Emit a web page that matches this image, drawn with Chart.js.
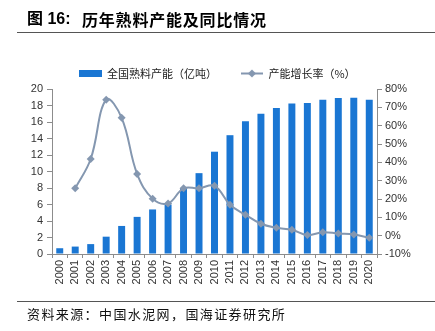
<!DOCTYPE html>
<html>
    <head>
        <meta charset="utf-8">
        <title>历年熟料产能及同比情况</title>
        <script src="https://cdn.jsdelivr.net/npm/chart.js@4"></script>
        <style>
            html, body { margin: 0; padding: 0; background: #fff; }
            #wrap { width: 435px; height: 331px; position: relative; }
        </style>
    </head>
    <body>
        <div id="wrap"><canvas id="chart"></canvas></div>

        <script>
            const years = ['2000', '2001', '2002', '2003', '2004', '2005', '2006', '2007', '2008', '2009', '2010',
                '2011', '2012', '2013', '2014', '2015', '2016', '2017', '2018', '2019', '2020']
            // 全国熟料产能 (亿吨)
            const capacity = [0.7, 0.9, 1.2, 2.1, 3.4, 4.5, 5.4, 6.0, 8.0, 9.8, 12.4,
                14.4, 16.1, 17.0, 17.7, 18.25, 18.3, 18.7, 18.9, 18.95, 18.7]
            // 产能增长率 (%)
            const growth = [null, 25.8, 41.8, 74.2, 64.3, 33.7, 20.2, 17.6, 25.8, 25.8, 27.2,
                16.9, 11.4, 6.5, 4.3, 3.2, 0.3, 1.9, 1.2, 0.6, -1.2]
            const leftTicks = [0, 20, 2]
            const rightTicks = [-10, 80, 10]

            const barColor = '#1a76d3'
            const lineColor = '#8497b0'
            const axisColor = '#8c8c8c'
            const tickFont = { family: "'Liberation Sans', Arial, sans-serif", size: 11 }
            const cjk = "'Noto Sans CJK SC', sans-serif"

            // little legend swatches
            function swatchBar() {
                const c = document.createElement('canvas')
                c.width = 23
                c.height = 7
                const g = c.getContext('2d')
                g.fillStyle = barColor
                g.fillRect(0, 0, 23, 7)
                return c
            }
            function swatchLine() {
                const c = document.createElement('canvas')
                c.width = 22
                c.height = 9
                const g = c.getContext('2d')
                g.strokeStyle = lineColor
                g.lineWidth = 2
                g.beginPath()
                g.moveTo(0, 4.5)
                g.lineTo(22, 4.5)
                g.stroke()
                g.fillStyle = lineColor
                g.beginPath()
                g.moveTo(11, 0.5)
                g.lineTo(15, 4.5)
                g.lineTo(11, 8.5)
                g.lineTo(7, 4.5)
                g.closePath()
                g.fill()
                return c
            }
            const swatches = [swatchBar(), swatchLine()]

            const frame = {
                id: 'frame',
                afterDraw(chart) {
                    const ctx = chart.ctx
                    ctx.save()
                    ctx.fillStyle = '#000'
                    ctx.textBaseline = 'middle'
                    ctx.font = "bold 16px 'Liberation Sans', " + cjk
                    ctx.fillText('图 16:', 27, 20)
                    ctx.font = 'bold 16px ' + cjk
                    ctx.letterSpacing = '0.8px'
                    ctx.fillText('历年熟料产能及同比情况', 82, 20)
                    ctx.letterSpacing = '0px'
                    ctx.strokeStyle = '#555'
                    ctx.lineWidth = 1
                    ctx.beginPath()
                    ctx.moveTo(17, 32.5)
                    ctx.lineTo(435, 32.5)
                    ctx.moveTo(17, 301.5)
                    ctx.lineTo(435, 301.5)
                    ctx.stroke()
                    ctx.font = '13px ' + cjk
                    ctx.letterSpacing = '1.4px'
                    ctx.fillStyle = '#111'
                    ctx.fillText('资料来源：中国水泥网，国海证券研究所', 27, 314)
                    ctx.restore()
                },
            }

            const chart = new Chart('chart', {
                data: {
                    labels: years,
                    datasets: [
                        {
                            type: 'bar',
                            label: '全国熟料产能（亿吨）',
                            data: capacity,
                            backgroundColor: barColor,
                            barPercentage: 0.9,
                            categoryPercentage: 0.5,
                            yAxisID: 'y',
                            order: 1,
                        },
                        {
                            type: 'line',
                            label: '产能增长率（%）',
                            data: growth,
                            borderColor: lineColor,
                            backgroundColor: lineColor,
                            borderWidth: 2,
                            tension: 0.4,
                            pointStyle: 'rectRot',
                            pointRadius: 4,
                            pointBorderWidth: 0,
                            yAxisID: 'y1',
                            order: 0,
                        },
                    ],
                },
                options: {
                    responsive: true,
                    maintainAspectRatio: false,
                    animation: false,
                    layout: {
                        padding: { top: 44, bottom: 35, left: 0, right: 0 },
                    },
                    plugins: {
                        tooltip: { enabled: false },
                        legend: {
                            position: 'top',
                            labels: {
                                usePointStyle: true,
                                pointStyleWidth: 22,
                                padding: 24,
                                color: '#222',
                                font: { family: cjk, size: 11 },
                                sort: (a, b) => a.datasetIndex - b.datasetIndex,
                                generateLabels(chart) {
                                    const items = Chart.defaults.plugins.legend.labels.generateLabels(chart)
                                    items.forEach(it => { it.pointStyle = swatches[it.datasetIndex] })
                                    return items
                                },
                            },
                        },
                    },
                    scales: {
                        x: {
                            grid: {
                                drawOnChartArea: false,
                                color: axisColor,
                                tickLength: 4,
                            },
                            border: { color: axisColor },
                            ticks: {
                                color: '#333',
                                font: tickFont,
                                maxRotation: 90,
                                minRotation: 90,
                                autoSkip: false,
                                padding: 2,
                            },
                            afterFit(scale) { scale.height = 42 },
                        },
                        y: {
                            position: 'left',
                            min: leftTicks[0],
                            max: leftTicks[1],
                            grid: { drawOnChartArea: false, color: axisColor, tickLength: 5 },
                            border: { color: axisColor },
                            ticks: {
                                stepSize: leftTicks[2],
                                autoSkip: false,
                                color: '#333',
                                font: tickFont,
                                padding: 4,
                            },
                            afterFit(scale) { scale.width = 52 },
                        },
                        y1: {
                            position: 'right',
                            min: rightTicks[0],
                            max: rightTicks[1],
                            grid: { drawOnChartArea: false, color: axisColor, tickLength: 5 },
                            border: { color: axisColor },
                            ticks: {
                                stepSize: rightTicks[2],
                                autoSkip: false,
                                color: '#333',
                                font: tickFont,
                                padding: 3,
                                callback: v => v + '%',
                            },
                            afterFit(scale) { scale.width = 58 },
                        },
                    },
                },
                plugins: [frame],
            })
        </script>
    </body>
</html>
